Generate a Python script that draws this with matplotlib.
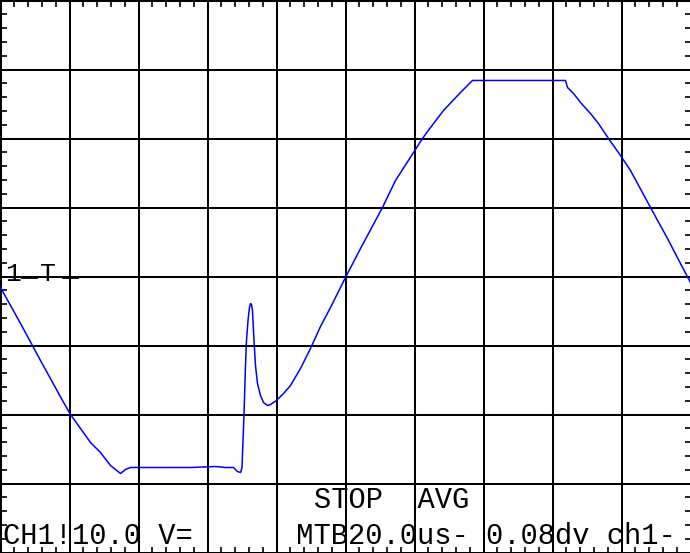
import matplotlib
matplotlib.use("Agg")
import matplotlib.pyplot as plt
from matplotlib.ticker import MultipleLocator
from matplotlib.lines import Line2D

# ---- data (time in microseconds, CH1 in volts) ----
time_us = [0.0, 5.80, 11.59, 17.97, 20.29, 23.19, 26.09, 28.99, 31.88, 34.78,
           36.23, 37.68, 46.38, 55.07, 62.32, 65.22, 67.54, 68.70, 69.57, 70.00,
           70.58, 71.01, 71.30, 71.74, 72.17, 72.46, 72.75, 73.04, 73.48, 73.91,
           74.49, 75.36, 76.23, 77.39, 78.26, 80.00, 82.03, 84.06, 86.96, 89.86,
           92.75, 95.65, 100.0, 104.35, 110.72, 114.49, 119.71, 122.32, 124.64, 128.41,
           133.33, 136.81, 144.93, 153.62, 163.77, 164.35, 166.09, 168.12, 171.01, 173.33,
           176.23, 179.71, 182.61, 188.41, 193.33, 197.10, 200.0]
ch1_volts = [-1.59, -6.81, -12.17, -17.97, -20.00, -22.03, -24.06, -25.51, -27.39, -28.55,
             -27.97, -27.68, -27.68, -27.68, -27.54, -27.68, -27.68, -28.26, -28.41, -27.68,
             -20.00, -12.90, -9.28, -6.38, -4.49, -3.91, -4.06, -4.93, -9.28, -12.90,
             -15.51, -17.25, -18.26, -18.70, -18.55, -17.97, -16.96, -15.80, -13.33, -10.43,
             -7.25, -4.49, -0.14, 4.06, 10.00, 13.91, 17.97, 20.00, 21.59, 24.06,
             26.67, 28.41, 28.41, 28.41, 28.41, 27.39, 26.52, 25.22, 23.62, 22.17,
             20.00, 17.54, 15.36, 10.00, 5.51, 1.88, -0.87]

time_per_div = 20.0    # us/div
volts_per_div = 10.0   # V/div
n_xdiv = 10
n_ydiv = 8

status_line = "STOP  AVG"
info_line = "CH1!10.0 V=      MTB20.0us- 0.08dv ch1-"
marker_channel = "1"
marker_trigger = "T"

# ---- figure ----
W, H = 690, 553
fig = plt.figure(figsize=(W / 100, H / 100), dpi=100, facecolor="white")
ax = fig.add_axes([0.5 / W, 0.5 / H, 1.0, 552 / H])
ax.set_facecolor("white")
ax.set_xlim(0, n_xdiv * time_per_div)
ax.set_ylim(-n_ydiv / 2 * volts_per_div, n_ydiv / 2 * volts_per_div)

grid_lw = 1.45
for k in range(0, n_xdiv):
    ax.axvline(k * time_per_div, color="black", lw=grid_lw, clip_on=False, zorder=1)
for j in range(-n_ydiv // 2, n_ydiv // 2 + 1):
    ax.axhline(j * volts_per_div, color="black", lw=grid_lw, clip_on=False, zorder=1)

for s in ax.spines.values():
    s.set_visible(False)

ax.xaxis.set_major_locator(MultipleLocator(time_per_div))
ax.xaxis.set_minor_locator(MultipleLocator(time_per_div / 5))
ax.yaxis.set_major_locator(MultipleLocator(volts_per_div))
ax.yaxis.set_minor_locator(MultipleLocator(volts_per_div / 5))
ax.tick_params(which="both", direction="in", top=True, bottom=True, left=True, right=True,
               labelleft=False, labelbottom=False, labeltop=False, labelright=False,
               color="black")
ax.tick_params(which="minor", length=4.5, width=1.2)
ax.tick_params(which="major", length=0)

ax.plot(time_us, ch1_volts, color="#0000ff", lw=1.1, zorder=3, clip_on=False)

# ---- screen annotations ----
font = "Liberation Mono"
pitch = 17.25
x0 = 3
fig.text(x0 / W, 1 - 543.5 / H, info_line, family=font, fontsize=20.7,
         ha="left", va="baseline", color="black")
fig.text((x0 + 18 * pitch) / W, 1 - 508.5 / H, status_line, family=font, fontsize=20.7,
         ha="left", va="baseline", color="black")

fig.text(13 / W, 1 - 280.5 / H, marker_channel, family=font, fontsize=19,
         ha="center", va="baseline", color="black")
fig.text(48 / W, 1 - 280.5 / H, marker_trigger, family=font, fontsize=19,
         ha="center", va="baseline", color="black")
for xa, xb in [(22, 36), (63, 77)]:
    fig.add_artist(Line2D([xa / W, xb / W], [1 - 276.5 / H, 1 - 276.5 / H],
                          transform=fig.transFigure, color="black", lw=2.0))

fig.savefig("out.png", dpi=100, facecolor="white")
